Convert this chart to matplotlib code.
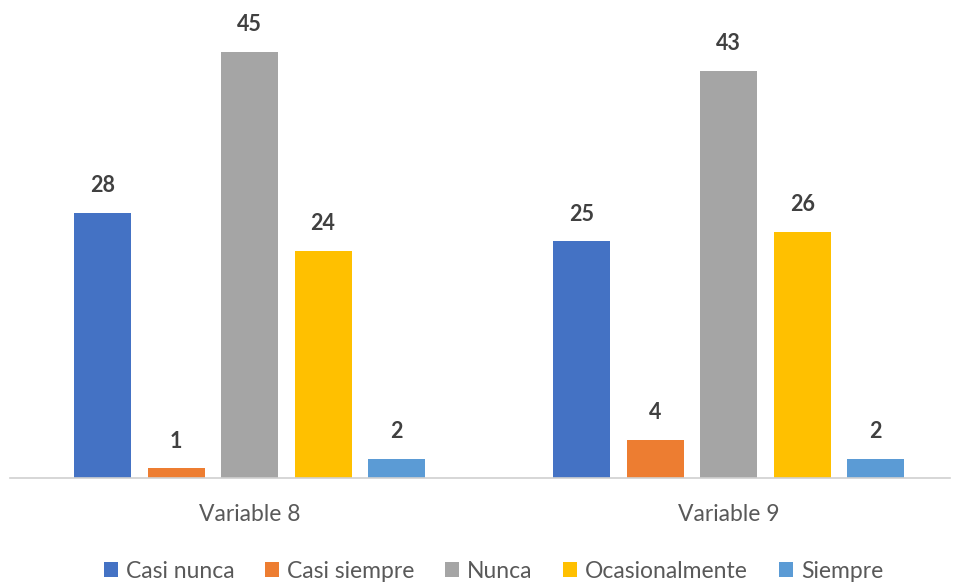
import matplotlib
matplotlib.use("Agg")
import matplotlib.pyplot as plt
import numpy as np
from matplotlib.patches import Patch

plt.rcParams['font.family'] = ['Lato', 'DejaVu Sans']

categories = ["Variable 8", "Variable 9"]
series = ["Casi nunca", "Casi siempre", "Nunca", "Ocasionalmente", "Siempre"]
values = {
    "Casi nunca": [28, 25],
    "Casi siempre": [1, 4],
    "Nunca": [45, 43],
    "Ocasionalmente": [24, 26],
    "Siempre": [2, 2],
}
colors = ["#4472C4", "#ED7D31", "#A5A5A5", "#FFC000", "#5B9BD5"]

fig = plt.figure(figsize=(9.58, 5.84), dpi=100)
ax = fig.add_axes([0.0104, 0.182, 0.981, 0.81])

x = np.arange(len(categories))
step = 0.1533
width = 0.119
for i, (name, col) in enumerate(zip(series, colors)):
    pos = x + (i - 2) * step
    bars = ax.bar(pos, values[name], width=width, color=col, zorder=2)
    for b, v in zip(bars, values[name]):
        ax.annotate(str(v), (b.get_x() + b.get_width() / 2, v),
                    xytext=(0, 12), textcoords="offset points",
                    ha="center", va="bottom", fontsize=15.5, fontweight="bold",
                    color="#404040")

ax.set_xlim(-0.5, 1.461)
ax.set_ylim(0, 50)
ax.set_yticks([])
ax.set_xticks(x)
ax.set_xticklabels(categories, fontsize=16.5, color="#595959")
ax.tick_params(axis="x", length=0, pad=19)
for s in ["top", "right", "left"]:
    ax.spines[s].set_visible(False)
ax.spines["bottom"].set_color("#D0D0D0")
ax.spines["bottom"].set_linewidth(1.2)

handles = [Patch(facecolor=c, edgecolor="none") for c in colors]
leg = fig.legend(handles, series, loc="center", bbox_to_anchor=(0.515, 0.022),
                 ncol=5, frameon=False, fontsize=16.5, handlelength=0.6,
                 handleheight=0.6, handletextpad=0.35, columnspacing=1.35)
for t in leg.get_texts():
    t.set_color("#595959")

fig.savefig("out.png", dpi=100)
